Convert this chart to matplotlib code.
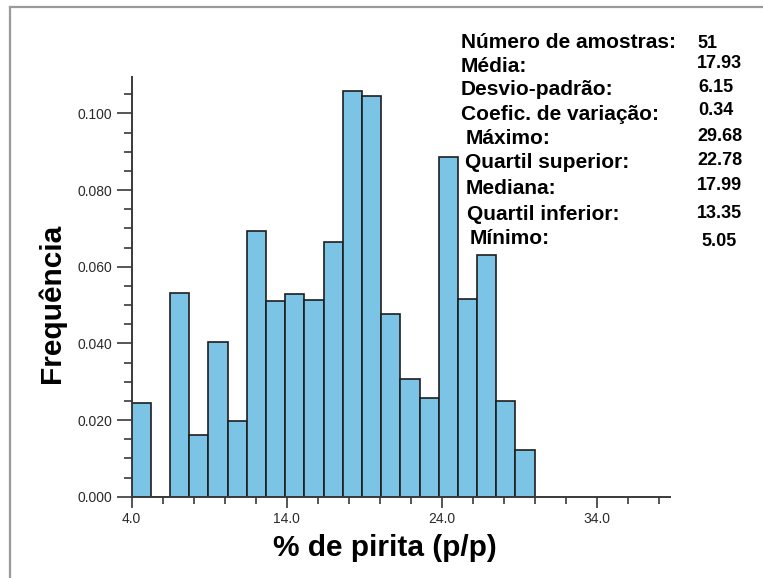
import matplotlib
matplotlib.use("Agg")
import matplotlib.pyplot as plt
from matplotlib.lines import Line2D
from matplotlib.ticker import FixedLocator, MultipleLocator, FormatStrFormatter
import numpy as np

# histogram data (relative frequency per class of % pyrite)
bin_start = 4.0
bin_end = 30.0
freqs = [0.0244, 0.0, 0.0532, 0.0161, 0.0403, 0.0197, 0.0694, 0.0511, 0.0529,
         0.0513, 0.0664, 0.1059, 0.1046, 0.0476, 0.0307, 0.0257, 0.0886, 0.0515,
         0.0632, 0.0250, 0.0122]

x_major = [4.0, 14.0, 24.0, 34.0]

stat_labels = ["Número de amostras:", "Média:", "Desvio-padrão:",
               "Coefic. de variação:", "Máximo:", "Quartil superior:",
               "Mediana:", "Quartil inferior:", "Mínimo:"]
stat_values = ["51", "17.93", "6.15", "0.34", "29.68", "22.78", "17.99",
               "13.35", "5.05"]

W, H = 763, 578


def px(x, y):
    return x / W, 1 - y / H


def main():
    fig = plt.figure(figsize=(W / 100, H / 100), dpi=100)
    fig.patch.set_facecolor("white")

    # frame of the original picture (top and left only)
    fig.add_artist(Line2D([10 / W, 1], [1 - 7 / H] * 2, transform=fig.transFigure,
                          color="#9a9a9a", lw=1.6))
    fig.add_artist(Line2D([10 / W] * 2, [0, 1 - 7 / H], transform=fig.transFigure,
                          color="#9a9a9a", lw=1.6))

    left, right, top, bottom = 131.7, 670, 76.7, 496.7
    ax = fig.add_axes([left / W, 1 - bottom / H, (right - left) / W, (bottom - top) / H])

    edges = np.linspace(bin_start, bin_end, len(freqs) + 1)
    ax.bar(edges[:-1], freqs, width=np.diff(edges), align="edge",
           color="#7bc4e6", edgecolor="#1e1e1e", linewidth=1.2, zorder=2)

    ax.set_xlim(4.0, 38.73)
    ax.set_ylim(0, 0.1096)

    for s in ["top", "right"]:
        ax.spines[s].set_visible(False)
    for s in ["left", "bottom"]:
        ax.spines[s].set_color("#3a3a3a")
        ax.spines[s].set_linewidth(1.4)

    ax.xaxis.set_major_locator(FixedLocator(x_major))
    ax.xaxis.set_minor_locator(FixedLocator(np.arange(6.0, 39.0, 2.0)))
    ax.yaxis.set_major_locator(MultipleLocator(0.02))
    ax.yaxis.set_minor_locator(MultipleLocator(0.005))
    ax.xaxis.set_major_formatter(FormatStrFormatter("%.1f"))
    ax.yaxis.set_major_formatter(FormatStrFormatter("%.3f"))

    ax.tick_params(axis="x", which="major", length=8, width=1.2, color="#3a3a3a",
                   pad=3, labelsize=10, labelcolor="#2a2a2a")
    ax.tick_params(axis="x", which="minor", length=5, width=1.2, color="#3a3a3a")
    ax.tick_params(axis="y", which="major", length=11, width=1.2, color="#3a3a3a",
                   pad=3, labelsize=10, labelcolor="#2a2a2a")
    ax.tick_params(axis="y", which="minor", length=6, width=1.2, color="#3a3a3a")
    for lab in ax.get_xticklabels() + ax.get_yticklabels():
        lab.set_fontfamily("Liberation Sans")

    fig.text(*px(385, 548), "% de pirita (p/p)", ha="center", va="center",
             fontsize=21.5, fontweight="bold", family="Liberation Sans")
    fig.text(*px(52, 303), "Frequência", ha="center", va="center", rotation=90,
             fontsize=21.5, fontweight="bold", family="Liberation Sans")

    # statistics block
    label_x = [461, 461, 461, 461, 466, 465, 466, 467, 470]
    label_y = [43, 66, 90, 114, 139, 163, 188, 214, 239]
    value_x = [697, 697, 698, 698, 697, 697, 697, 697, 701]
    value_y = [43, 63, 87, 111, 136, 161, 185, 213, 242]
    for i in range(len(stat_labels)):
        fig.text(*px(label_x[i], label_y[i]), stat_labels[i], ha="left", va="center",
                 fontsize=15, fontweight="bold", family="Liberation Sans")
        fig.text(*px(value_x[i], value_y[i]), stat_values[i], ha="left", va="center",
                 fontsize=13, fontweight="bold", family="Liberation Sans")

    fig.savefig("out.png", dpi=100)


if __name__ == '__main__':
    main()
